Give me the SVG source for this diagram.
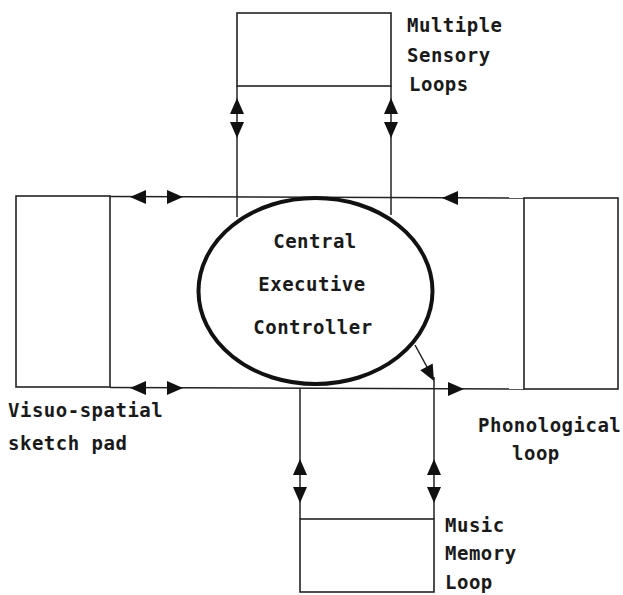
<svg xmlns="http://www.w3.org/2000/svg" xmlns:xlink="http://www.w3.org/1999/xlink" width="623" height="595" viewBox="0 0 623 595">
<style>
.ln{fill:none;stroke:#222;stroke-width:1.5}
.box{fill:none;stroke:#222;stroke-width:1.6}
.ell{fill:none;stroke:#111;stroke-width:4}
.ah{fill:#111}
.t{font-family:"DejaVu Sans Mono","Liberation Mono",monospace;font-size:19px;font-weight:bold;letter-spacing:0.5px;fill:#1a1a1a}
</style>
<defs>
<path id="tri" d="M0,0 L-16,-7 L-16,7 Z"/>
</defs>
<rect width="623" height="595" fill="#fff"/>

<g id="multiple-sensory-loops">
<rect class="box" x="237" y="13" width="154" height="73"/>
<text class="t" x="407" y="32">Multiple</text>
<text class="t" x="407" y="62">Sensory</text>
<text class="t" x="409" y="91">Loops</text>
</g>

<g id="visuo-spatial-sketch-pad">
<rect class="box" x="16" y="196" width="94" height="191"/>
<text class="t" x="8" y="417">Visuo-spatial</text>
<text class="t" x="8" y="450">sketch pad</text>
</g>

<g id="phonological-loop">
<rect class="box" x="524" y="198" width="94" height="191"/>
<text class="t" x="478" y="432">Phonological</text>
<text class="t" x="512" y="460">loop</text>
</g>

<g id="music-memory-loop">
<rect class="box" x="300" y="519" width="134" height="73"/>
<text class="t" x="445" y="532">Music</text>
<text class="t" x="445" y="560">Memory</text>
<text class="t" x="445" y="589">Loop</text>
</g>

<g id="connectors">
<path class="ln" d="M110,196.5 L524,198"/>
<path class="ln" d="M110,387.5 L524,389"/>
<path class="ln" d="M237,86 V217"/>
<path class="ln" d="M391,86 V215"/>
<path class="ln" d="M300,388 V519"/>
<path class="ln" d="M434,377 V519"/>
<path class="ln" d="M415,345 L433,378"/>

<use xlink:href="#tri" class="ah" transform="translate(130,197) rotate(180)"/>
<use xlink:href="#tri" class="ah" transform="translate(183,197)"/>
<use xlink:href="#tri" class="ah" transform="translate(130,388) rotate(180)"/>
<use xlink:href="#tri" class="ah" transform="translate(183,388)"/>
<use xlink:href="#tri" class="ah" transform="translate(442,198) rotate(180)"/>
<use xlink:href="#tri" class="ah" transform="translate(464,389)"/>
<use xlink:href="#tri" class="ah" transform="translate(237,98) rotate(-90)"/>
<use xlink:href="#tri" class="ah" transform="translate(237,138) rotate(90)"/>
<use xlink:href="#tri" class="ah" transform="translate(391,98) rotate(-90)"/>
<use xlink:href="#tri" class="ah" transform="translate(391,138) rotate(90)"/>
<use xlink:href="#tri" class="ah" transform="translate(300,459) rotate(-90)"/>
<use xlink:href="#tri" class="ah" transform="translate(300,503) rotate(90)"/>
<use xlink:href="#tri" class="ah" transform="translate(434,459) rotate(-90)"/>
<use xlink:href="#tri" class="ah" transform="translate(434,503) rotate(90)"/>
<use xlink:href="#tri" class="ah" transform="translate(434,381) rotate(62)"/>
</g>

<g id="central-executive-controller">
<ellipse class="ell" cx="315.5" cy="291" rx="117" ry="93"/>
<text class="t" x="315" y="248" text-anchor="middle">Central</text>
<text class="t" x="312" y="291" text-anchor="middle">Executive</text>
<text class="t" x="313" y="334" text-anchor="middle">Controller</text>
</g>
</svg>
